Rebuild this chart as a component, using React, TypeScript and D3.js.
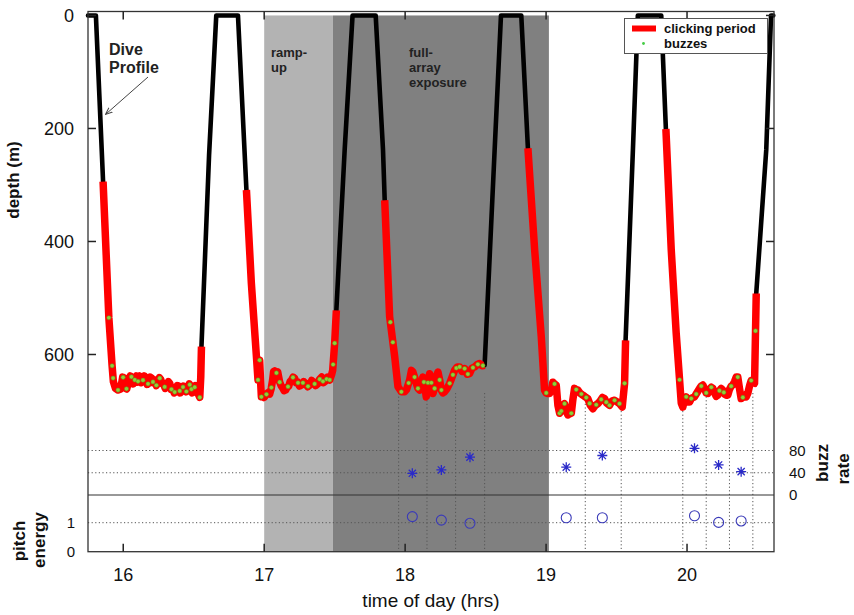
import React from 'react';
import * as d3 from 'd3';

// ---------- data ----------
const hourTicks = [16, 17, 18, 19, 20];
const depthTicks = [0, 200, 400, 600];
const buzzTicks = [0, 40, 80];
const pitchTicks = [0, 1];

const rampUp: [number, number] = [17.0, 17.487];
const fullArray: [number, number] = [17.487, 19.02];

// dive profile: [time of day (h), depth (m)]
const dive1: [number, number][] = [
  [15.75, 0], [15.806, 0], [15.857, 294], [15.898, 535], [15.921, 620], [15.93, 648], [15.945, 660], [15.963, 663],
  [15.982, 661], [15.996, 640], [16.011, 642], [16.018, 660], [16.025, 661], [16.039, 647], [16.05, 638], [16.06, 640],
  [16.071, 652], [16.082, 645], [16.093, 638], [16.103, 649], [16.117, 638], [16.127, 650], [16.138, 647], [16.15, 638],
  [16.16, 642], [16.17, 653], [16.181, 651], [16.192, 640], [16.202, 642], [16.213, 650], [16.223, 645], [16.234, 655],
  [16.245, 649], [16.256, 641], [16.266, 644], [16.277, 652], [16.287, 653], [16.298, 660], [16.309, 656], [16.32, 648],
  [16.33, 651], [16.34, 662], [16.351, 660], [16.362, 668], [16.372, 663], [16.383, 655], [16.394, 656], [16.404, 668],
  [16.415, 665], [16.426, 656], [16.436, 658], [16.447, 666], [16.457, 661], [16.468, 652], [16.479, 656], [16.49, 668],
  [16.5, 663], [16.511, 655], [16.521, 667], [16.532, 670], [16.543, 676], [16.55, 640], [16.555, 586], [16.609, 247],
  [16.66, 0],
];
const dive2: [number, number][] = [
  [16.814, 0], [16.874, 309], [16.909, 474], [16.945, 604], [16.956, 645], [16.962, 615], [16.968, 610], [16.975, 650],
  [16.98, 675], [16.99, 672], [17.0, 676], [17.011, 672], [17.025, 668], [17.039, 670], [17.05, 660], [17.06, 645],
  [17.067, 630], [17.074, 629], [17.085, 633], [17.096, 631], [17.103, 640], [17.11, 649], [17.12, 655], [17.131, 659],
  [17.141, 664], [17.152, 663], [17.163, 658], [17.174, 656], [17.184, 648], [17.195, 645], [17.205, 640], [17.216, 642],
  [17.227, 650], [17.238, 649], [17.25, 656], [17.266, 654], [17.28, 648], [17.294, 651], [17.308, 657], [17.323, 654],
  [17.337, 646], [17.351, 649], [17.365, 655], [17.379, 652], [17.393, 644], [17.408, 640], [17.42, 650], [17.436, 647],
  [17.45, 640], [17.465, 645], [17.478, 636], [17.486, 628], [17.5, 580], [17.512, 522], [17.571, 238], [17.627, 0],
];
const dive3: [number, number][] = [
  [17.791, 0], [17.843, 238], [17.855, 327], [17.89, 533], [17.926, 604], [17.949, 657], [17.973, 666], [17.996, 666],
  [18.01, 662], [18.032, 645], [18.045, 628], [18.055, 631], [18.067, 640], [18.079, 651], [18.091, 660], [18.103, 663],
  [18.115, 650], [18.126, 640], [18.138, 655], [18.15, 675], [18.162, 650], [18.174, 634], [18.186, 650], [18.197, 669],
  [18.209, 660], [18.22, 640], [18.233, 631], [18.245, 645], [18.257, 663], [18.268, 668], [18.28, 666], [18.298, 660],
  [18.316, 651], [18.333, 640], [18.351, 628], [18.369, 622], [18.387, 622], [18.404, 630], [18.422, 625], [18.44, 635],
  [18.457, 634], [18.475, 624], [18.493, 622], [18.51, 618], [18.528, 616], [18.546, 620], [18.564, 619], [18.635, 238],
  [18.68, 0],
];
const dive4: [number, number][] = [
  [18.824, 0], [18.871, 235], [18.919, 415], [18.966, 569], [18.989, 663], [19.0, 668], [19.011, 669], [19.026, 669],
  [19.04, 660], [19.048, 649], [19.06, 652], [19.072, 654], [19.084, 690], [19.096, 704], [19.108, 700], [19.12, 690],
  [19.131, 687], [19.143, 700], [19.155, 707], [19.167, 705], [19.179, 704], [19.19, 680], [19.202, 660], [19.214, 662],
  [19.226, 663], [19.24, 668], [19.261, 672], [19.278, 675], [19.296, 678], [19.314, 690], [19.332, 696], [19.35, 690],
  [19.367, 687], [19.385, 682], [19.4, 676], [19.415, 678], [19.43, 686], [19.45, 690], [19.468, 682], [19.486, 681],
  [19.504, 684], [19.521, 687], [19.54, 693], [19.557, 651], [19.564, 575], [19.616, 238], [19.651, 0],
];
const dive5: [number, number][] = [
  [19.817, 0], [19.85, 201], [19.888, 415], [19.923, 562], [19.959, 686], [19.97, 693], [19.982, 680], [19.994, 675],
  [20.006, 684], [20.018, 684], [20.03, 678], [20.042, 676], [20.053, 675], [20.065, 670], [20.077, 665], [20.089, 660],
  [20.1, 656], [20.112, 654], [20.124, 660], [20.136, 668], [20.148, 669], [20.16, 662], [20.172, 658], [20.183, 660],
  [20.195, 668], [20.207, 674], [20.218, 672], [20.23, 664], [20.242, 660], [20.254, 663], [20.266, 670], [20.278, 672],
  [20.289, 672], [20.301, 662], [20.313, 656], [20.325, 654], [20.337, 648], [20.349, 640], [20.36, 640], [20.372, 660],
  [20.384, 678], [20.396, 676], [20.408, 672], [20.42, 675], [20.432, 668], [20.444, 655], [20.455, 646], [20.467, 650],
  [20.479, 651], [20.491, 492], [20.562, 238], [20.596, 0], [20.612, 0],
];

// clicking periods [start, end] (h)
const clickingPeriods: [number, number][] = [
  [15.857, 16.555], [16.874, 17.512], [17.855, 18.564], [18.871, 19.564], [19.85, 20.491],
];

// buzz times (h)
const buzzTimes = [
  15.898, 15.921, 15.928, 15.963, 15.999, 16.023, 16.058, 16.082, 16.105, 16.14, 16.176, 16.211, 16.235, 16.259,
  16.294, 16.342, 16.365, 16.401, 16.424, 16.448, 16.472, 16.484, 16.507, 16.543,
  16.956, 16.968, 16.98, 17.016, 17.051, 17.087, 17.11, 17.169, 17.204, 17.24, 17.275, 17.311, 17.358, 17.394,
  17.417, 17.443, 17.465, 17.489, 17.5,
  17.895, 17.913, 17.973, 18.025, 18.067, 18.091, 18.133, 18.162, 18.186, 18.209, 18.245, 18.257, 18.316, 18.339,
  18.363, 18.387, 18.422, 18.445, 18.481, 18.516, 18.552,
  19.001, 19.06, 19.096, 19.108, 19.131, 19.179, 19.214, 19.25, 19.285, 19.309, 19.356, 19.391, 19.427, 19.45,
  19.486, 19.521, 19.557,
  19.947, 19.994, 20.03, 20.065, 20.101, 20.136, 20.172, 20.23, 20.261, 20.313, 20.36, 20.396, 20.455, 20.486,
];

// segment boundaries (h) and per-segment values
const segmentBounds = [17.954, 18.155, 18.358, 18.564, 19.278, 19.533, 19.97, 20.136, 20.301, 20.467];
const segTimes = [18.051, 18.257, 18.46, 19.143, 19.399, 20.053, 20.224, 20.384];
const buzzRate = [39, 45, 68, 50, 71, 84, 54, 42];
const pitchEnergy = [1.21, 1.09, 0.98, 1.17, 1.17, 1.24, 1.01, 1.06];

// ---------- chart ----------
const FONT = "'Liberation Sans', Arial, Helvetica, sans-serif";

function starPath(cx: number, cy: number, r: number) {
  const q = r * 0.72;
  return `M${cx - r},${cy}H${cx + r}M${cx},${cy - r}V${cy + r}` +
    `M${cx - q},${cy - q}L${cx + q},${cy + q}M${cx - q},${cy + q}L${cx + q},${cy - q}`;
}

export default function App() {
  const W = 854, H = 615;
  const left = 88, right = 774, top = 11.5, bottom = 551.7;
  const x = d3.scaleLinear().domain([15.75, 20.617]).range([left, right]);
  const yD = d3.scaleLinear().domain([-7, 949]).range([top, bottom]);
  const yB = d3.scaleLinear().domain([0, 80]).range([495, 450.5]);
  const yP = d3.scaleLinear().domain([0, 1]).range([bottom, 522.7]);

  const profile = [...dive1, ...dive2, ...dive3, ...dive4, ...dive5];
  const line = d3.line<[number, number]>().x(d => x(d[0])).y(d => yD(d[1]));
  const depthAt = d3.scaleLinear().domain(profile.map(p => p[0])).range(profile.map(p => p[1]));
  const redSegs = clickingPeriods.map(([s, e]) => profile.filter(p => p[0] >= s - 1e-9 && p[0] <= e + 1e-9));

  const dotted = '1.2,2.4';
  const tick = 8;

  return (
    <svg width={W} height={H} style={{ position: 'absolute', left: 0, top: 0, display: 'block', background: '#fff' }}
      fontFamily={FONT}>
      {/* shaded exposure periods */}
      <rect x={x(rampUp[0])} y={yD(0)} width={x(rampUp[1]) - x(rampUp[0])} height={bottom - yD(0)} fill="#b3b3b3" />
      <rect x={x(fullArray[0])} y={yD(0)} width={x(fullArray[1]) - x(fullArray[0])} height={bottom - yD(0)} fill="#808080" />

      {/* dotted grid */}
      {[40, 80].map(v => (
        <line key={'b' + v} x1={left} x2={right} y1={yB(v)} y2={yB(v)} stroke="#555" strokeWidth={1} strokeDasharray={dotted} />
      ))}
      <line x1={left} x2={right} y1={yP(1)} y2={yP(1)} stroke="#555" strokeWidth={1} strokeDasharray={dotted} />
      {segmentBounds.map((t, i) => (
        <line key={'s' + i} x1={x(t)} x2={x(t)} y1={393} y2={bottom} stroke="#555" strokeWidth={1} strokeDasharray={dotted} />
      ))}
      <line x1={left} x2={right} y1={yB(0)} y2={yB(0)} stroke="#333" strokeWidth={1.2} />

      {/* dive profile */}
      <path d={line(profile) || ''} fill="none" stroke="#000" strokeWidth={4.6} strokeLinejoin="round" strokeLinecap="round" />
      {redSegs.map((seg, i) => (
        <path key={'r' + i} d={line(seg) || ''} fill="none" stroke="#ff0000" strokeWidth={7.5} strokeLinejoin="round" />
      ))}
      {buzzTimes.map((t, i) => (
        <circle key={'z' + i} cx={x(t)} cy={yD(depthAt(t))} r={2.1} fill="#8fd03a" stroke="#5a9a20" strokeWidth={0.5} />
      ))}

      {/* buzz rate stars and pitch circles */}
      {segTimes.map((t, i) => (
        <path key={'st' + i} d={starPath(x(t), yB(buzzRate[i]), 5)} stroke="#2a2ac8" strokeWidth={1.3} fill="none" />
      ))}
      {segTimes.map((t, i) => (
        <circle key={'pc' + i} cx={x(t)} cy={yP(pitchEnergy[i])} r={5} stroke="#3a3ab8" strokeWidth={1.1} fill="none" />
      ))}

      {/* frame and ticks */}
      <rect x={left} y={top} width={right - left} height={bottom - top} fill="none" stroke="#333" strokeWidth={1.3} />
      {hourTicks.map(h => (
        <g key={'h' + h}>
          <line x1={x(h)} x2={x(h)} y1={bottom} y2={bottom - tick} stroke="#222" strokeWidth={1.5} />
          <line x1={x(h)} x2={x(h)} y1={top} y2={top + tick} stroke="#222" strokeWidth={1.5} />
          <text x={x(h)} y={581} textAnchor="middle" fontSize={18} fill="#111">{h}</text>
        </g>
      ))}
      {depthTicks.map(d => (
        <g key={'d' + d}>
          <line x1={left} x2={left + tick} y1={yD(d)} y2={yD(d)} stroke="#222" strokeWidth={1.5} />
          <line x1={right} x2={right - tick} y1={yD(d)} y2={yD(d)} stroke="#222" strokeWidth={1.5} />
          <text x={74} y={yD(d)} dy="0.35em" textAnchor="end" fontSize={18} fill="#111">{d}</text>
        </g>
      ))}
      {buzzTicks.map(b => (
        <text key={'bt' + b} x={789} y={yB(b)} dy="0.35em" fontSize={15} fill="#111">{b}</text>
      ))}
      {pitchTicks.map(p => (
        <text key={'pt' + p} x={75} y={yP(p)} dy="0.35em" textAnchor="end" fontSize={15} fill="#111">{p}</text>
      ))}

      {/* axis titles */}
      <text x={431} y={607} textAnchor="middle" fontSize={19} fill="#111">time of day (hrs)</text>
      <text transform="translate(13,180) rotate(-90)" textAnchor="middle" dy="0.35em" fontSize={17} fontWeight="bold" fill="#111">depth (m)</text>
      <text transform="translate(19,541) rotate(-90)" textAnchor="middle" dy="0.35em" fontSize={17} fontWeight="bold" fill="#111">pitch</text>
      <text transform="translate(39,540) rotate(-90)" textAnchor="middle" dy="0.35em" fontSize={17} fontWeight="bold" fill="#111">energy</text>
      <text transform="translate(822,463) rotate(-90)" textAnchor="middle" dy="0.35em" fontSize={17} fontWeight="bold" fill="#111">buzz</text>
      <text transform="translate(843,469) rotate(-90)" textAnchor="middle" dy="0.35em" fontSize={17} fontWeight="bold" fill="#111">rate</text>

      {/* annotations */}
      <text fontSize={16} fontWeight="bold" fill="#222">
        <tspan x={109} y={55}>Dive</tspan>
        <tspan x={109} y={73}>Profile</tspan>
      </text>
      <defs>
        <marker id="arr" viewBox="0 0 10 10" refX={9} refY={5} markerWidth={7} markerHeight={7} orient="auto">
          <path d="M0,1L10,5L0,9" fill="none" stroke="#444" strokeWidth={1.4} />
        </marker>
      </defs>
      <line x1={148} y1={77} x2={106} y2={114} stroke="#444" strokeWidth={1} markerEnd="url(#arr)" />
      <text fontSize={13} fontWeight="bold" fill="#222">
        <tspan x={271} y={57}>ramp-</tspan>
        <tspan x={271} y={72}>up</tspan>
      </text>
      <text fontSize={13} fontWeight="bold" fill="#222">
        <tspan x={409} y={57}>full-</tspan>
        <tspan x={409} y={72}>array</tspan>
        <tspan x={409} y={87}>exposure</tspan>
      </text>

      {/* legend */}
      <rect x={624.5} y={18.5} width={143} height={35} fill="#fff" stroke="#555" strokeWidth={1} />
      <line x1={632} x2={656} y1={28.5} y2={28.5} stroke="#ff0000" strokeWidth={6} />
      <text x={664} y={33} fontSize={13} fontWeight="bold" fill="#111">clicking period</text>
      <circle cx={643.5} cy={43.5} r={1.4} fill="#44cc44" />
      <text x={664} y={47.5} fontSize={13} fontWeight="bold" fill="#111">buzzes</text>
    </svg>
  );
}
